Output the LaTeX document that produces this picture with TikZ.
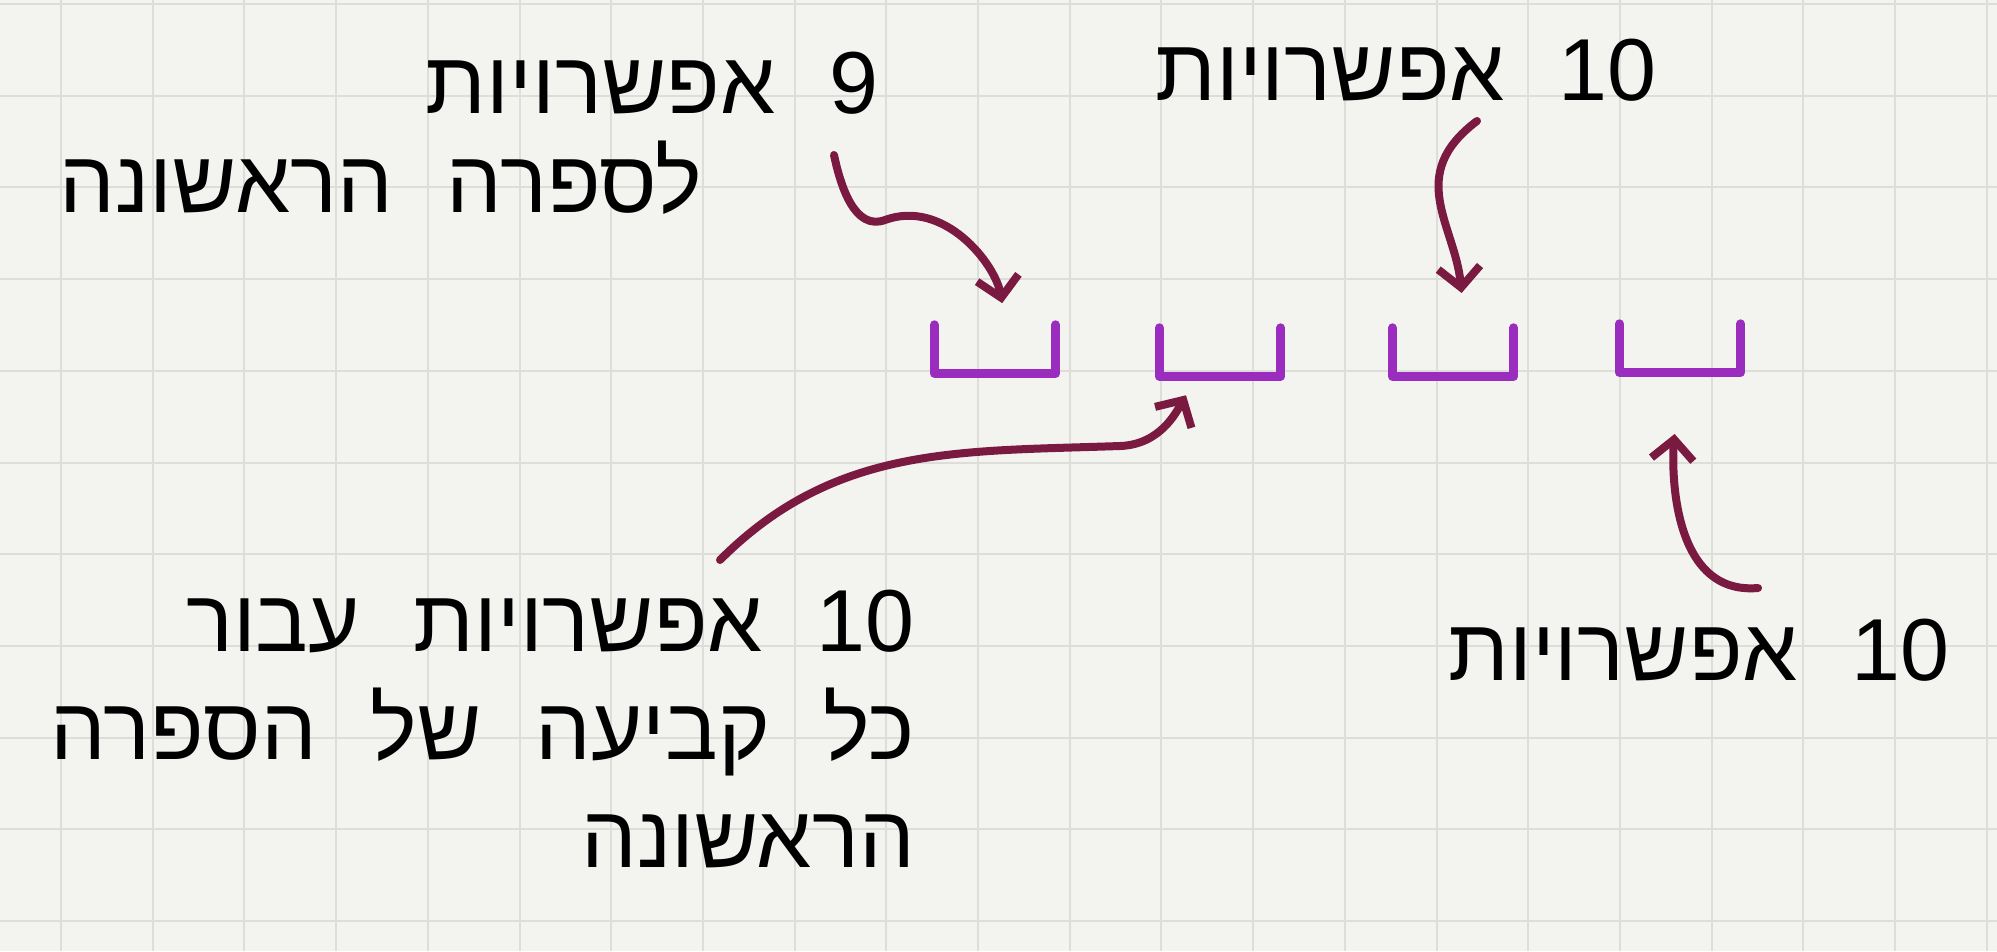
\documentclass[tikz,border=0pt]{standalone}
\usepackage{fontspec}
\usetikzlibrary{arrows.meta, positioning}
\TeXXeTstate=1
\newfontfamily\hebfont[Script=Hebrew, WordSpace=2.2]{Liberation Sans}
\definecolor{paper}{RGB}{243,243,239}
\definecolor{gridgray}{RGB}{221,221,217}
\definecolor{slotpurple}{RGB}{155,45,190}
\definecolor{arrowwine}{RGB}{122,26,64}
\tikzset{
  note/.style={font=\hebfont\fontsize{88}{108}\selectfont, text=black, inner sep=0pt, align=right},
  slot/.style={minimum width=121pt, minimum height=48pt, inner sep=0pt},
  slotline/.style={draw=slotpurple, line width=9pt, line cap=round, line join=round},
  wine/.style={draw=arrowwine, line width=8pt, line cap=round,
    -{Straight Barb[length=20pt, width=42pt]}},
  gridline/.style={draw=gridgray, line width=2pt}
}

\begin{document}
\begin{tikzpicture}[x=1pt, y=-1pt]
  % paper and grid
  \useasboundingbox (0,0) rectangle (1997,951);
  \fill[paper] (0,0) rectangle (1997,951);
  \foreach \gx in {0,...,21}
    \draw[gridline] ({61+91.7*\gx},0) -- ++(0,951);
  \foreach \gy in {0,...,10}
    \draw[gridline] (0,{4+91.7*\gy}) -- ++(1997,0);

  % notes
  \node[note] (opt9) at (652,83) {\beginR 9 אפשרויות\endR};
  \node[note] (first) at (381,178) {\beginR לספרה הראשונה\endR};
  \node[note] (opttop) at (1406,70) {\beginR\beginL10\endL{} אפשרויות\endR};
  \node[note, anchor=north east] (perfix) at (915,590)
    {\beginR\beginL10\endL{} אפשרויות עבור\endR\\
     \beginR כל קביעה של הספרה\endR\\
     \beginR הראשונה\endR};
  \node[note] (optbot) at (1699,650) {\beginR\beginL10\endL{} אפשרויות\endR};

  % the four digit slots
  \node[slot] (s1) at (995,349) {};
  \node[slot] (s2) at (1220,352) {};
  \node[slot] (s3) at (1453,352) {};
  \node[slot] (s4) at (1680,348) {};
  \foreach \s in {s1,s2,s3,s4}
    \draw[slotline] (\s.north west) -- (\s.south west) -- (\s.south east) -- (\s.north east);

  % arrows
  \coordinate (t9) at (834,155);
  \coordinate (ttop) at (1477,121);
  \coordinate (tfix) at (720,560);
  \coordinate (tbot) at (1758,588);
  \draw[wine, shorten >=22pt] (t9) to[out=-78,in=200] (885,220) to[out=20,in=100] ([xshift=11pt]s1.north);
  \draw[wine, shorten >=35pt] (ttop) .. controls (1405,175) and (1455,225) .. ([xshift=12pt]s3.north);
  \draw[wine, shorten >=22pt] (tfix) to[out=45,in=182] (1120,446) to[out=2,in=-120] ([xshift=-23pt]s2.south);
  \draw[wine, shorten >=62pt] (tbot) to[out=185,in=-95] (s4.south);
\end{tikzpicture}
\end{document}
